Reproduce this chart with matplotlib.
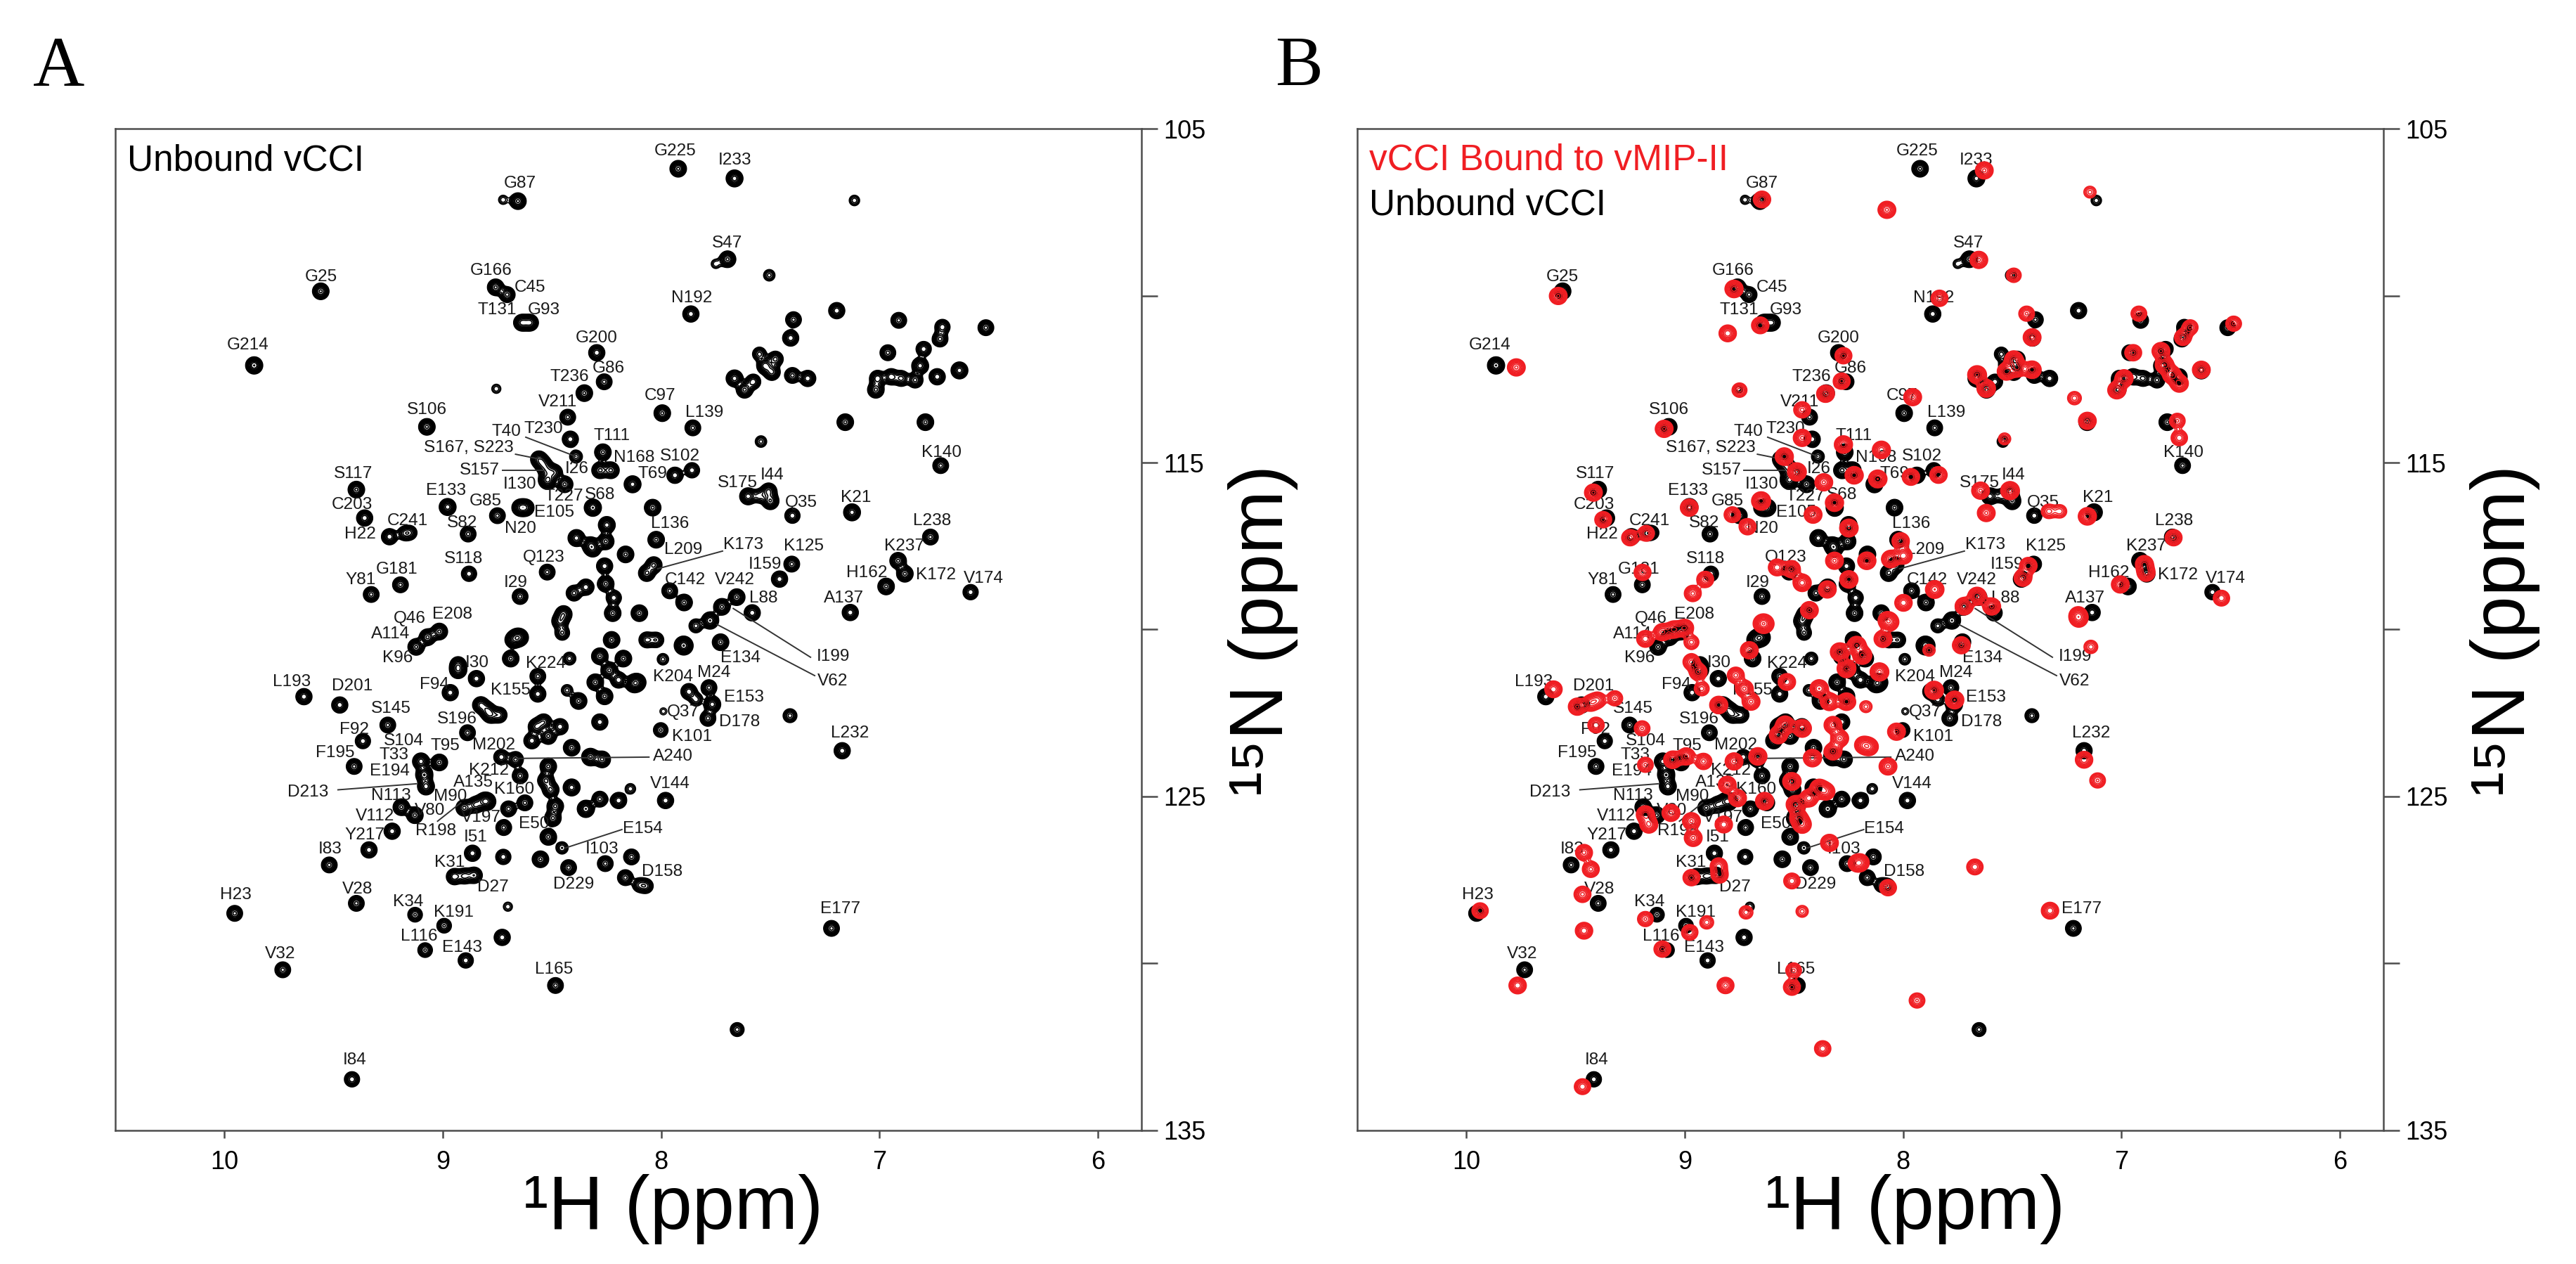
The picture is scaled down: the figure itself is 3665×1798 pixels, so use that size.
import numpy as np
import matplotlib
matplotlib.use("Agg")
import matplotlib.pyplot as plt

plt.rcParams['font.family'] = ['Liberation Sans', 'DejaVu Sans']

# ---- unbound vCCI peaks: 1H ppm, 15N ppm, relative intensity ----
free_h = [8.656, 8.724, 9.559, 8.758, 8.705, 8.638, 8.600, 9.864, 8.295, 8.261,
          8.352, 8.755, 8.428, 9.073, 8.416, 8.390, 8.267, 8.560, 8.540, 8.523,
          8.490, 8.523, 8.442, 8.517, 8.280, 8.230, 8.131, 8.313, 9.396, 8.978,
          8.750, 8.646, 8.620, 9.358, 9.176, 9.150, 9.244, 8.884, 8.880, 8.522,
          9.194, 9.328, 8.646,
          7.922, 7.664, 7.115, 7.696, 7.750, 7.505, 7.864, 7.196, 7.394, 6.912,
          6.513, 6.712, 6.723, 7.407, 6.962,
          7.664, 7.618, 7.524, 7.477, 7.493, 7.399, 7.329, 7.579, 7.550,
          7.017, 7.009, 6.947, 6.900, 6.837, 6.798, 6.814, 6.736, 6.634,
          7.157, 6.790, 7.543, 7.995, 7.855, 6.720, 7.859, 7.937, 7.602, 7.508,
          7.500, 7.550, 7.399, 7.126, 6.767, 6.915, 6.884, 6.970, 6.583, 7.402,
          7.458, 7.134, 8.023, 8.034, 8.066, 7.961, 7.654, 7.583, 8.039, 7.895,
          7.841, 7.722, 7.776, 7.728, 7.899, 7.992, 7.895, 8.100, 8.163,
          8.388, 8.324, 8.249, 8.254, 8.313, 8.259, 8.254, 8.345, 8.399, 8.447,
          8.463, 8.453, 8.222, 8.217, 8.678, 8.646, 8.689, 8.565, 8.565, 8.420,
          8.227, 8.281, 8.238, 8.302, 8.259, 8.378, 8.281, 8.195, 8.109, 8.066,
          8.023, 8.431, 8.796, 8.742, 8.002, 7.873, 8.571, 8.517, 8.592, 8.463,
          8.538, 8.410, 8.324, 8.270, 8.732, 8.667, 8.646, 8.517, 8.528, 8.506,
          8.410, 8.485, 8.496, 8.345, 8.281, 8.195, 7.980, 8.796, 8.699, 8.624,
          8.721, 8.517, 8.141,
          9.122, 9.070, 9.016, 9.636, 9.472, 8.966, 8.846, 8.930, 8.930, 8.660,
          8.826, 8.781, 9.252, 8.887, 9.366, 9.016, 9.406, 9.100, 9.085, 9.077,
          9.190, 9.128, 8.902, 8.850, 8.811, 9.232, 8.864, 9.520, 9.338, 8.947,
          8.900, 8.856, 8.723, 8.424, 8.553, 8.454, 8.256, 9.953, 9.396, 9.127,
          8.994, 8.702, 8.728, 9.081, 8.895, 9.733, 8.484, 9.416, 8.173,
          8.125, 7.781, 7.766, 7.786, 7.840, 7.410, 7.171, 8.136, 8.164, 8.070,
          8.100, 7.220, 7.652, 7.990]
free_n = [107.17, 107.13, 109.87, 109.75, 109.97, 110.81, 110.81, 112.09, 111.71, 112.58,
          112.92, 112.79, 113.64, 113.93, 114.30, 114.82, 114.69, 114.90, 115.05, 115.23,
          115.30, 115.52, 115.65, 115.54, 115.23, 115.23, 115.65, 116.35, 115.81, 116.33,
          116.59, 116.35, 116.35, 116.66, 117.12, 117.10, 117.22, 117.14, 118.33, 118.28,
          118.66, 118.95, 119.01,
          106.20, 106.49, 107.15, 108.91, 109.05, 109.39, 110.55, 110.45, 110.72, 110.74,
          110.96, 110.94, 111.30, 111.27, 111.71,
          112.48, 112.82, 112.10, 111.90, 112.29, 112.39, 112.48, 112.58, 111.75,
          112.82, 112.48, 112.43, 112.48, 112.53, 111.60, 112.10, 112.43, 112.24,
          113.79, 113.79, 114.37, 113.52, 113.96, 115.09, 115.23, 115.38, 116.01, 115.86,
          116.15, 116.00, 116.59, 116.49, 117.23, 117.94, 118.33, 118.71, 118.88, 118.04,
          118.49, 119.49, 117.31, 118.07, 118.31, 118.84, 119.03, 119.50, 116.35, 119.19,
          119.89, 119.32, 119.73, 120.38, 120.47, 120.89, 120.49, 119.51, 117.75,
          117.26, 117.47, 116.87, 117.36, 117.58, 118.10, 118.63, 118.73, 118.91, 119.54,
          119.75, 120.10, 119.51, 119.05, 120.31, 120.24, 120.87, 121.40, 121.93, 120.87,
          120.31, 120.80, 121.22, 121.58, 122.00, 122.14, 122.77, 121.51, 121.58, 120.31,
          120.31, 121.82, 122.42, 122.56, 123.01, 121.86, 122.91, 123.19, 123.33, 122.91,
          122.77, 123.54, 123.82, 123.89, 123.82, 123.89, 124.38, 124.10, 124.52, 124.80,
          124.73, 125.29, 125.65, 125.37, 125.08, 125.12, 125.12, 125.15, 125.37, 125.19,
          125.93, 126.21, 124.77,
          120.52, 120.23, 120.06, 122.01, 122.26, 121.89, 121.47, 121.22, 121.05, 120.23,
          122.26, 122.56, 122.86, 123.09, 123.34, 123.98, 124.10, 123.95, 124.35, 124.70,
          125.32, 125.56, 125.34, 125.25, 125.14, 126.04, 126.70, 127.05, 126.60, 127.40,
          127.38, 127.36, 126.81, 127.13, 126.88, 126.54, 127.01, 128.50, 128.20, 128.54,
          128.87, 128.30, 129.22, 129.60, 129.91, 130.19, 130.66, 133.47, 120.87,
          121.62, 121.74, 122.24, 122.66, 122.10, 122.58, 123.63, 126.81, 127.43, 127.68,
          127.65, 128.95, 131.98, 122.45]
free_amp = [1.0, 0.2, 1.0, 1.0, 0.8, 1.0, 1.0, 1.2, 0.9, 0.8,
            1.0, 0.2, 0.8, 1.0, 0.9, 0.4, 1.0, 1.0, 1.0, 0.9,
            1.0, 0.9, 1.0, 0.8, 1.0, 1.0, 1.1, 1.2, 1.0, 1.1,
            0.8, 1.0, 1.0, 0.9, 0.5, 0.5, 0.9, 0.8, 0.7, 0.8,
            0.8, 0.8, 0.8,
            1.0, 1.1, 0.25, 1.0, 0.2, 0.3, 0.9, 0.9, 0.8, 0.8,
            0.8, 0.7, 0.8, 0.9, 0.8,
            1.1, 1.0, 1.1, 0.8, 1.0, 0.8, 0.9, 0.7, 0.5,
            1.0, 0.9, 0.9, 0.8, 0.8, 0.7, 1.1, 0.9, 1.1,
            1.0, 1.0, 0.3, 1.0, 0.8, 0.8, 0.7, 0.9, 1.1, 1.0,
            1.2, 0.5, 0.7, 1.1, 0.8, 1.0, 1.0, 1.0, 0.7, 0.8,
            0.9, 0.9, 1.0, 1.0, 1.0, 0.8, 1.0, 0.9, 1.0, 1.0,
            0.5, 1.0, 1.2, 1.0, 1.0, 0.3, 1.0, 1.0, 1.0,
            1.1, 0.9, 1.1, 1.0, 0.9, 0.9, 1.0, 0.9, 0.8, 1.1,
            1.0, 0.6, 1.0, 0.7, 0.9, 0.9, 1.0, 0.8, 0.9, 0.4,
            1.0, 1.0, 1.0, 1.0, 1.0, 1.0, 0.9, 0.9, 1.1, 0.8,
            0.7, 0.3, 1.0, 0.8, 0.6, 0.9, 1.0, 1.0, 0.9, 0.9,
            0.9, 1.0, 1.3, 1.0, 0.7, 0.8, 0.8, 1.0, 1.0, 1.0,
            1.1, 1.0, 1.0, 1.2, 0.8, 0.9, 0.9, 1.0, 0.8, 0.8,
            0.8, 1.0, 0.25,
            1.0, 1.0, 1.0, 0.9, 0.9, 0.9, 0.9, 1.0, 0.8, 1.0,
            1.0, 0.9, 0.8, 0.8, 0.7, 1.0, 0.8, 1.1, 1.2, 1.1,
            1.0, 1.0, 1.0, 1.0, 1.0, 0.9, 0.9, 0.8, 0.9, 0.9,
            0.8, 0.9, 0.7, 0.8, 1.0, 0.35, 0.8, 0.8, 0.8, 0.6,
            0.6, 0.2, 0.9, 0.6, 0.7, 0.8, 0.8, 0.7, 1.0,
            1.3, 0.8, 1.1, 0.8, 0.4, 0.5, 0.9, 0.8, 0.8, 0.6,
            0.5, 0.8, 0.5, 0.15]

# ---- vCCI bound to vMIP-II peaks ----
bound_h = [8.646, 9.579, 9.771, 8.774, 8.654, 8.803, 8.273, 8.281, 8.355, 8.749,
           8.462, 9.094, 8.462, 8.273, 8.544, 8.486, 8.363, 8.224, 8.650, 9.418,
           8.979, 9.373, 9.250, 9.176, 8.782, 8.712, 8.412, 8.314, 8.248, 9.193,
           8.906, 8.963, 8.511, 8.462, 8.577, 8.314, 8.248, 8.347, 8.643, 8.429,
           9.050, 9.000,
           7.628, 8.074, 7.144, 7.653, 7.493, 7.833, 7.434, 6.920, 6.685, 6.718,
           6.486, 7.409, 6.946, 7.661, 7.619, 7.493, 7.476, 7.409, 7.527, 7.021,
           6.988, 6.819, 6.803, 6.769, 6.634, 6.735, 7.215, 7.156, 6.744, 6.735,
           7.535, 7.956, 8.099, 8.116, 7.964, 7.838, 7.645, 7.510, 7.619, 7.333,
           7.282, 7.156, 6.761, 6.895, 6.887, 7.426, 7.451, 7.005, 6.542, 7.198,
           8.011, 8.166, 8.057, 7.998, 7.661, 7.855, 7.998, 7.594, 8.074, 7.720,
           9.601, 9.492, 9.430, 9.398, 9.320, 9.406, 9.195, 9.180, 9.055, 8.993,
           8.914, 8.774, 8.665, 8.805, 8.758, 8.634, 9.180, 9.164, 9.063, 8.969,
           8.961, 8.821, 9.461, 9.430, 9.468, 9.461, 9.937, 9.765, 9.468, 9.180,
           8.899, 8.977, 9.102, 8.813, 8.501, 8.509, 8.368, 8.719, 8.462, 8.969,
           8.844, 8.840, 8.509, 8.337, 8.212, 8.493, 8.462, 8.969, 8.938, 8.766,
           8.922, 8.727, 8.696, 8.844, 9.180, 9.102, 8.969, 8.704, 8.634, 8.532,
           8.540, 8.462, 8.571, 8.384, 8.290, 8.212, 8.259, 8.337, 8.259, 8.321,
           8.290, 8.415, 8.321, 8.509, 8.384, 8.431, 8.353, 8.478, 8.181,
           8.186, 8.108, 8.092, 8.061, 7.881, 7.733, 7.140, 7.195, 7.858, 7.764,
           8.030, 8.155, 8.069, 7.171, 7.109, 8.194, 8.069, 7.671, 7.327, 7.936,
           8.170]
bound_n = [107.12, 110.01, 112.15, 109.80, 110.89, 111.13, 111.80, 112.56, 112.94, 112.83,
           113.42, 113.99, 114.26, 114.46, 114.82, 115.28, 115.59, 115.38, 116.15, 115.90,
           116.35, 116.71, 117.25, 117.12, 116.56, 116.92, 116.56, 116.20, 116.96, 118.29,
           118.50, 118.92, 118.19, 118.60, 118.14, 117.94, 118.50, 118.80, 119.82, 119.42,
           120.00, 119.95,
           106.25, 107.43, 106.90, 108.93, 109.39, 110.08, 110.54, 110.54, 110.95, 111.25,
           110.84, 111.25, 111.71, 112.37, 112.78, 111.92, 112.17, 112.22, 112.27, 112.83,
           112.48, 111.66, 112.07, 112.37, 112.22, 112.63, 113.07, 113.75, 113.75, 114.26,
           114.29, 113.04, 114.62, 115.49, 115.43, 115.37, 115.84, 115.84, 116.51, 116.46,
           116.46, 116.61, 117.25, 118.04, 118.30, 118.09, 118.45, 118.65, 119.06, 119.57,
           117.35, 117.94, 117.89, 117.79, 119.00, 118.80, 119.20, 119.31, 119.72, 119.30,
           121.79, 122.31, 122.20, 122.11, 122.06, 122.86, 122.96, 124.05, 123.90, 123.80,
           123.95, 123.95, 123.80, 124.65, 125.05, 125.14, 125.54, 125.84, 125.49, 125.74,
           126.24, 125.84, 126.68, 127.18, 127.93, 129.02, 128.42, 130.66, 133.69, 128.67,
           128.77, 129.07, 129.57, 130.66, 130.21, 130.71, 132.55, 128.47, 128.44, 127.43,
           127.08, 127.35, 127.53, 126.39, 127.00, 125.24, 125.84, 120.97, 121.27, 121.37,
           121.77, 121.77, 122.16, 122.26, 120.28, 120.08, 120.38, 120.62, 119.83, 121.57,
           122.86, 122.96, 123.16, 121.77, 120.67, 120.47, 121.17, 122.16, 122.16, 122.86,
           123.26, 123.85, 123.65, 124.55, 124.75, 125.05, 124.85, 125.64, 123.46,
           120.77, 121.27, 120.28, 119.78, 120.62, 120.47, 120.52, 119.68, 121.82, 122.11,
           123.06, 123.51, 124.10, 123.90, 124.52, 126.98, 127.73, 127.11, 128.42, 131.11,
           122.31]
bound_amp = [0.9, 1.0, 1.0, 1.1, 0.9, 0.9, 0.8, 0.8, 1.0, 0.5,
             0.8, 1.0, 1.0, 1.1, 1.1, 1.3, 1.0, 1.1, 1.4, 1.0,
             1.0, 0.8, 0.8, 0.7, 0.7, 0.8, 1.0, 1.1, 1.2, 0.8,
             0.8, 0.8, 1.0, 1.1, 0.9, 1.0, 1.1, 1.0, 1.1, 1.0,
             1.0, 1.0,
             1.0, 1.0, 0.3, 1.0, 0.5, 0.8, 0.6, 0.6, 0.6, 0.8,
             0.6, 1.0, 0.8, 1.3, 1.2, 1.2, 1.2, 1.1, 1.1, 1.1,
             1.1, 1.0, 1.2, 1.2, 1.0, 1.1, 0.4, 1.0, 0.6, 0.7,
             0.3, 1.0, 1.1, 1.2, 0.9, 0.9, 1.0, 1.3, 1.0, 0.5,
             0.4, 1.1, 0.8, 1.0, 1.0, 0.9, 1.0, 1.0, 0.7, 0.9,
             0.9, 1.1, 1.1, 0.9, 1.2, 1.2, 0.9, 1.0, 0.8, 1.1,
             0.9, 1.0, 0.8, 0.7, 0.6, 0.7, 0.6, 0.6, 1.1, 1.0,
             0.8, 1.0, 1.1, 1.0, 1.0, 1.1, 1.1, 1.0, 1.0, 1.0,
             1.0, 0.9, 0.8, 0.8, 0.8, 0.9, 0.7, 0.9, 0.7, 0.6,
             0.4, 0.7, 0.8, 0.8, 0.6, 0.8, 0.7, 0.4, 0.3, 0.8,
             0.8, 0.8, 0.7, 1.0, 0.8, 1.2, 1.1, 0.8, 1.0, 0.8,
             0.5, 1.0, 1.0, 1.1, 0.9, 1.0, 0.5, 1.0, 1.0, 0.9,
             1.3, 1.2, 1.1, 1.2, 1.3, 1.2, 1.3, 1.2, 1.1, 1.0,
             1.0, 1.1, 1.0, 1.2, 1.2, 1.1, 1.0, 1.0, 1.0,
             1.3, 1.3, 1.0, 1.0, 0.3, 1.0, 0.4, 0.8, 1.3, 1.2,
             1.0, 1.1, 1.0, 0.9, 0.6, 0.8, 0.8, 0.7, 0.9, 0.6,
             0.3]

# ---- residue assignments (label text centre, ppm) ----
names = ['G87', 'G25', 'G166', 'C45', 'T131', 'G93', 'G214', 'G200', 'G86', 'T236',
         'V211', 'S106', 'T230', 'T40', 'T111', 'S167, S223', 'N168', 'S102', 'S157', 'I26',
         'I130', 'T227', 'S68', 'T69', 'S117', 'E133', 'G85', 'E105', 'N20', 'C203',
         'C241', 'H22', 'S82', 'S118', 'Q123', 'G181', 'Y81', 'I29', 'Q46', 'E208',
         'G225', 'I233', 'S47', 'N192', 'C97', 'L139', 'K140', 'S175', 'I44', 'Q35',
         'K21', 'L238', 'K237', 'H162', 'K172', 'V174', 'K125', 'I159', 'A137', 'L136',
         'K173', 'L209', 'C142', 'V242', 'L88',
         'A114', 'K96', 'L193', 'D201', 'F94', 'I30', 'K224', 'K155', 'S145', 'S196',
         'F92', 'S104', 'T33', 'T95', 'M202', 'F195', 'E194', 'D213', 'N113', 'V112',
         'V80', 'M90', 'A135', 'K160', 'K212', 'V197', 'R198', 'E50', 'Y217', 'I51',
         'I83', 'K31', 'D27', 'D229', 'I103', 'H23', 'V28', 'K34', 'K191', 'L116',
         'E143', 'V32', 'L165', 'I84',
         'I199', 'V62', 'E134', 'K204', 'M24', 'E153', 'Q37', 'D178', 'K101', 'L232',
         'A240', 'V144', 'E154', 'D158', 'E177']
label_h = [8.647, 9.559, 8.780, 8.600, 8.750, 8.538, 9.893, 8.295, 8.241, 8.419,
           8.474, 9.073, 8.538, 8.708, 8.226, 8.880, 8.123, 7.914, 8.830, 8.386,
           8.647, 8.447, 8.280, 8.039, 9.410, 8.985, 8.804, 8.490, 8.644, 9.416,
           9.160, 9.377, 8.910, 8.905, 8.538, 9.210, 9.377, 8.667, 9.153, 8.956,
           7.937, 7.664, 7.699, 7.860, 8.005, 7.802, 6.716, 7.649, 7.493, 7.360,
           7.107, 6.759, 6.887, 7.059, 6.741, 6.522, 7.348, 7.524, 7.165, 7.961,
           7.625, 7.898, 7.891, 7.664, 7.532,
           9.239, 9.206, 9.692, 9.416, 9.040, 8.842, 8.530, 8.690, 9.236, 8.933,
           9.407, 9.179, 9.225, 8.989, 8.765, 9.494, 9.244, 9.616, 9.236, 9.312,
           9.060, 8.966, 8.860, 8.674, 8.788, 8.826, 9.031, 8.582, 9.358, 8.849,
           9.517, 8.970, 8.769, 8.401, 8.271, 9.947, 9.392, 9.160, 8.951, 9.107,
           8.910, 9.745, 8.492, 9.404,
           7.212, 7.215, 7.636, 7.945, 7.758, 7.621, 7.899, 7.641, 7.860, 7.137,
           7.945, 7.958, 8.086, 7.995, 7.181]
label_n = [106.64, 109.44, 109.26, 109.75, 110.43, 110.43, 111.48, 111.27, 112.17, 112.44,
           113.18, 113.42, 113.98, 114.08, 114.20, 114.56, 114.85, 114.80, 115.23, 115.18,
           115.65, 116.01, 115.96, 115.33, 115.33, 115.84, 116.15, 116.49, 116.97, 116.27,
           116.75, 117.15, 116.81, 117.89, 117.84, 118.20, 118.52, 118.59, 119.68, 119.55,
           105.67, 105.94, 108.44, 110.07, 112.99, 113.50, 114.70, 115.62, 115.38, 116.20,
           116.06, 116.75, 117.51, 118.31, 118.36, 118.47, 117.51, 118.06, 119.07, 116.83,
           117.46, 117.62, 118.52, 118.52, 119.07,
           120.13, 120.85, 121.57, 121.70, 121.65, 121.00, 121.02, 121.82, 122.36, 122.68,
           122.99, 123.34, 123.75, 123.49, 123.46, 123.70, 124.25, 124.88, 124.98, 125.59,
           125.42, 125.00, 124.58, 124.80, 124.22, 125.64, 126.04, 125.82, 126.16, 126.22,
           126.57, 126.98, 127.71, 127.63, 126.57, 127.95, 127.78, 128.15, 128.47, 129.20,
           129.52, 129.71, 130.19, 132.89,
           120.82, 121.55, 120.85, 121.42, 121.30, 122.03, 122.48, 122.76, 123.21, 123.11,
           123.80, 124.62, 125.96, 127.25, 128.37]

# leader lines from a label to its peak
lead_h1 = [8.620, 8.667, 8.728, 7.719, 9.480, 9.024, 8.667, 8.438, 7.316, 7.297]
lead_n1 = [114.24, 114.75, 115.23, 117.65, 124.80, 125.74, 123.86, 126.54, 120.83, 121.38]
lead_h2 = [8.390, 8.553, 8.538, 8.016, 9.122, 8.918, 8.056, 8.180, 7.670, 7.744]
lead_n2 = [114.82, 114.90, 115.23, 118.18, 124.62, 125.19, 123.82, 125.99, 119.37, 119.85]

RED = '#f01e23'
SPINE = '#4d4d4d'
H_LIM = (10.5, 5.8)
N_LIM = (135, 105)

# spectrum grid, peaks rendered as 2D gaussians
grid_h = np.linspace(5.8, 10.5, 1300)
grid_n = np.linspace(105, 135, 1300)
levels = 0.1 * 1.28 ** np.arange(16)


def spectrum(ph, pn, amp, sh, sn):
    ph = np.asarray(ph)[:, None]
    pn = np.asarray(pn)[:, None]
    gh = np.exp(-0.5 * ((grid_h[None, :] - ph) / sh) ** 2)
    gn = np.exp(-0.5 * ((grid_n[None, :] - pn) / sn) ** 2)
    return (gn * np.asarray(amp)[:, None]).T @ gh


z_free = spectrum(free_h, free_n, free_amp, 0.0175, 0.115)
z_bound = spectrum(bound_h, bound_n, bound_amp, 0.019, 0.12)

fig = plt.figure(figsize=(18.33, 8.99), dpi=200)
axA = fig.add_axes([0.04474, 0.1057, 0.3983, 0.7925])
axB = fig.add_axes([0.5267, 0.1057, 0.3983, 0.7925])

for ax, bound in [(axA, False), (axB, True)]:
    ax.contour(grid_h, grid_n, z_free, levels=levels, colors='black',
               linewidths=0.6, zorder=2)
    for t, x, y in zip(names, label_h, label_n):
        ax.text(x, y, t, fontsize=8.8, ha='center', va='center',
                color='#1a1a1a', zorder=3)
    for x1, y1, x2, y2 in zip(lead_h1, lead_n1, lead_h2, lead_n2):
        ax.plot([x1, x2], [y1, y2], color='#333333', lw=0.7, zorder=3)
    if bound:
        ax.contour(grid_h, grid_n, z_bound, levels=levels, colors=RED,
                   linewidths=0.55, zorder=4)
        ax.text(10.445, 106.23, 'vCCI Bound to vMIP-II', fontsize=18.5,
                color=RED, ha='left', va='baseline', zorder=5)
        ax.text(10.445, 107.58, 'Unbound vCCI', fontsize=18.5,
                color='black', ha='left', va='baseline', zorder=5)
    else:
        ax.text(10.445, 106.25, 'Unbound vCCI', fontsize=18.5,
                color='black', ha='left', va='baseline', zorder=5)

    ax.set_xlim(*H_LIM)
    ax.set_ylim(*N_LIM)
    ax.set_xticks([10, 9, 8, 7, 6])
    ax.set_xticklabels(['10', '9', '8', '7', '6'])
    ax.set_yticks([105, 110, 115, 120, 125, 130, 135])
    ax.set_yticklabels(['105', '', '115', '', '125', '', '135'])
    ax.yaxis.tick_right()
    ax.tick_params(axis='y', direction='out', length=8.3, width=0.9,
                   color=SPINE, pad=2.9, labelsize=13)
    ax.tick_params(axis='x', direction='out', length=4, width=0.9,
                   color=SPINE, pad=6.1, labelsize=13)
    for s in ax.spines.values():
        s.set_color(SPINE)
        s.set_linewidth(0.9)

# axis titles and panel letters
narrow = ['Liberation Sans Narrow', 'Liberation Sans', 'DejaVu Sans']
for x0, letter in [(0.0, 'A'), (0.482, 'B')]:
    fig.text(0.2613 + x0, 0.0278, '¹H (ppm)', fontsize=39, family=narrow,
             ha='center', va='baseline')
    fig.text(0.4902 + x0, 0.501, '¹⁵N (ppm)', fontsize=39, family=narrow,
             rotation=90, ha='center', va='center')
    fig.text(0.0128 + x0, 0.932, letter, fontsize=36.6,
             family=['Liberation Serif', 'DejaVu Serif'], ha='left', va='baseline')

fig.savefig('out.png', dpi=200)
